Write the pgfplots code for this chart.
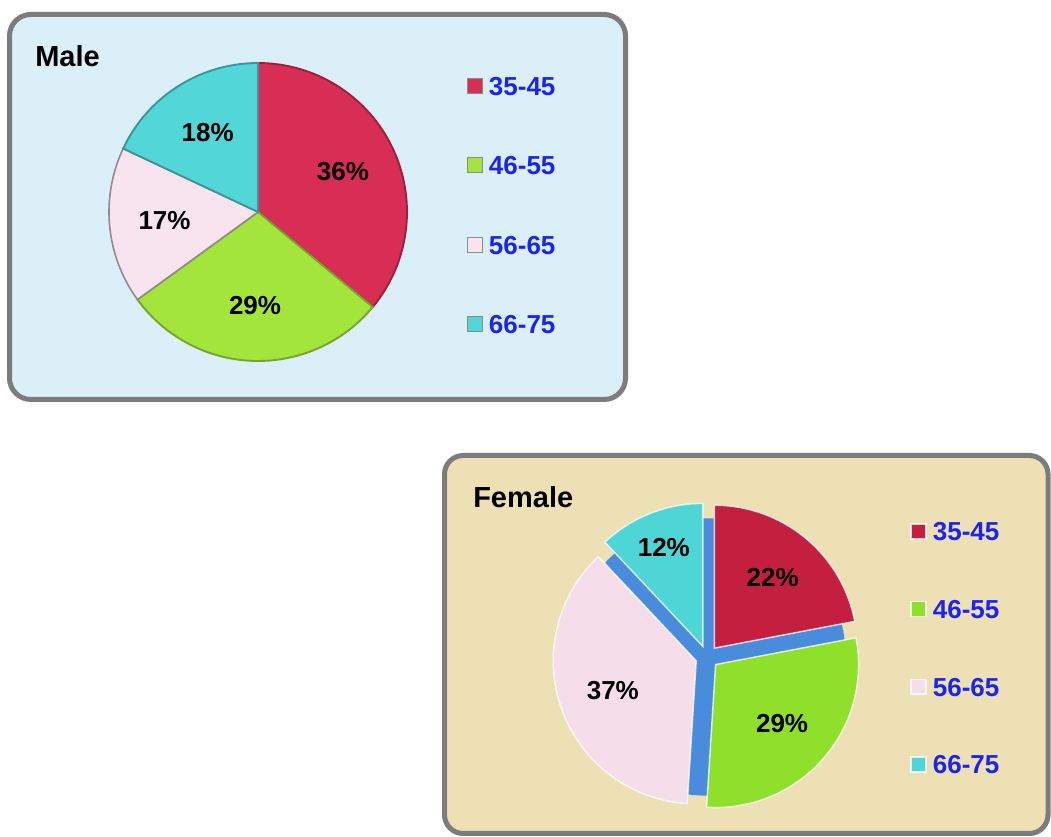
\documentclass[border=0pt]{standalone}
\usepackage{pgfplots}
\pgfplotsset{compat=1.18}
\usepackage{fontspec}
\setmainfont{Liberation Sans}

\definecolor{maleBg}{HTML}{DAEFF7}
\definecolor{femaleBg}{HTML}{EDE0B5}
\definecolor{frameGray}{HTML}{7C7C7C}
\definecolor{legBlue}{HTML}{1A22F4}
\definecolor{mRed}{HTML}{D82D55}
\definecolor{mGreen}{HTML}{A3E53A}
\definecolor{mPink}{HTML}{F8E4EE}
\definecolor{mCyan}{HTML}{52D6D8}
\definecolor{fRed}{HTML}{C51F40}
\definecolor{fGreen}{HTML}{8FE02B}
\definecolor{fPink}{HTML}{F5DEE9}
\definecolor{fCyan}{HTML}{4ED5D5}
\definecolor{gapBlue}{HTML}{4A8CDC}

\newcommand\pctfont{\bfseries\fontsize{19.5pt}{20pt}\selectfont}
\newcommand\legfont{\bfseries\fontsize{19.5pt}{20pt}\selectfont}
\newcommand\titlefont{\bfseries\fontsize{21.75pt}{23pt}\selectfont}

% One wedge of a pie, clockwise from 12 o'clock after the wedges already drawn.
% #1 share in percent, #2 fill colour, #3 edge style,
% #4 radius of the percentage label, #5 shift of the wedge away from the centre
\newcommand\pieslice[5]{%
  \pgfmathsetmacro\aS{90-3.6*\cum}%
  \pgfmathsetmacro\aE{90-3.6*(\cum+#1)}%
  \pgfmathsetmacro\aM{(\aS+\aE)/2}%
  \pgfmathsetmacro\dX{#5*cos(\aM)}%
  \pgfmathsetmacro\dY{#5*sin(\aM)}%
  \pgfmathsetmacro\lX{\dX+#4*cos(\aM)}%
  \pgfmathsetmacro\lY{\dY+#4*sin(\aM)}%
  \edef\doslice{%
    \noexpand\addplot[fill=#2, #3, domain=\aE:\aS, samples=72, variable=\noexpand\t]
      ({\dX+cos(\noexpand\t)}, {\dY+sin(\noexpand\t)}) -- (axis cs:\dX,\dY) -- cycle;
    \noexpand\node[font=\noexpand\pctfont] at (axis cs:\lX,\lY) {#1\noexpand\%};
  }%
  \doslice
  \pgfmathsetmacro\cum{\cum+#1}%
}

\pgfplotsset{
  pie axis/.style={
    xmin=-1, xmax=1, ymin=-1, ymax=1,
    hide axis, clip=false, anchor=center,
    legend cell align=left,
    legend style={anchor=north west, draw=none, fill=none, inner sep=0pt,
      column sep=4.5pt,
      nodes={inner sep=0pt, text height=14pt, text depth=0pt,
             font=\legfont, text=legBlue}},
  },
}

\begin{document}
\begin{tikzpicture}[x=0.75pt, y=-0.75pt]
\useasboundingbox (0,0) rectangle (1051,837);

% panels
\draw[line width=3.75pt, draw=frameGray, fill=maleBg, rounded corners=16pt]
  (9.5,14.5) rectangle (625.5,399.5);
\draw[line width=3.75pt, draw=frameGray, fill=femaleBg, rounded corners=14pt]
  (444.5,455.5) rectangle (1048,833.5);

\node[anchor=base west, font=\titlefont, inner sep=0pt] at (35,67) {Male};
\node[anchor=base west, font=\titlefont, inner sep=0pt] at (473,508) {Female};

% Male
\begin{axis}[pie axis,
  at={(193.5pt,-159pt)}, x=111.75pt, y=111.75pt,
  legend image code/.code={\draw[#1, draw=black!45, line width=0.6pt]
    (0pt,-5.6pt) rectangle (11.25pt,5.6pt);},
  legend style={at={(1.201,0.955)}, row sep=45.5pt},
]
\def\cum{0}
\pieslice{36}{mRed}{draw=mRed!72!black, line width=1.4pt}{0.63}{0}
\addlegendentry{35-45}
\pieslice{29}{mGreen}{draw=mGreen!72!black, line width=1.4pt}{0.63}{0}
\addlegendentry{46-55}
\pieslice{17}{mPink}{draw=mPink!60!black, line width=1.2pt}{0.63}{0}
\addlegendentry{56-65}
\pieslice{18}{mCyan}{draw=mCyan!70!black, line width=1.4pt}{0.63}{0}
\addlegendentry{66-75}
\end{axis}

% Female
\begin{axis}[pie axis,
  at={(530.25pt,-492.75pt)}, x=107.25pt, y=107.25pt,
  legend image code/.code={\draw[#1, draw=white, line width=1.2pt]
    (0pt,-5.6pt) rectangle (11.25pt,5.6pt);},
  legend style={at={(1.2098,0.973)}, row sep=44.3pt},
]
\addplot[forget plot, fill=gapBlue, draw=none, domain=0:360, samples=120]
  ({0.97*cos(x)}, {0.97*sin(x)});
\def\cum{0}
\pieslice{22}{fRed}{draw=white, draw opacity=0.75, line width=1.1pt}{0.64}{0.08}
\addlegendentry{35-45}
\pieslice{29}{fGreen}{draw=white, draw opacity=0.75, line width=1.1pt}{0.62}{0.08}
\addlegendentry{46-55}
\pieslice{37}{fPink}{draw=white, draw opacity=0.75, line width=1.1pt}{0.62}{0.08}
\addlegendentry{56-65}
\pieslice{12}{fCyan}{draw=white, draw opacity=0.75, line width=1.1pt}{0.74}{0.08}
\addlegendentry{66-75}
\end{axis}
\end{tikzpicture}
\end{document}
